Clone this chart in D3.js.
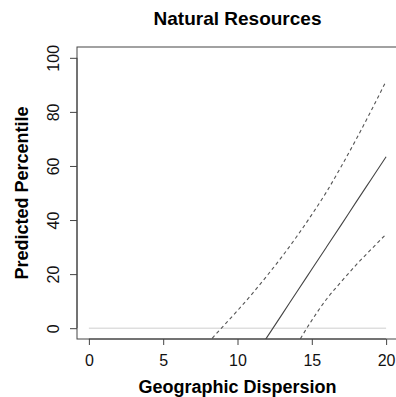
<!DOCTYPE html>
<html lang="en">
<head>
<meta charset="utf-8">
<script src="https://cdn.jsdelivr.net/npm/d3@7"></script>
<style>
body { margin: 0; background: #fff; }
svg { font-family: "Liberation Sans", Arial, sans-serif; }
.axis path, .axis line { stroke: #444; }
.axis text { fill: #111; font-size: 16px; }
</style>
</head>
<body>
<div id="chart"></div>
<script>
var title = "Natural Resources",
    xLabel = "Geographic Dispersion",
    yLabel = "Predicted Percentile";

var xTicks = [0, 5, 10, 15, 20],
    yTicks = [0, 20, 40, 60, 80, 100];

var zeroLine = [0, 20];   // x extent of the grey reference line at 0

var fitX = [11, 12, 13, 14, 15, 16, 17, 18, 19, 20],
    fitY = [-11.5, -3.2, 5.1, 13.5, 21.8, 30.1, 38.4, 46.8, 55.1, 63.4];

var upperX = [8, 9, 10, 11, 12, 13, 14, 15, 16, 17, 18, 19, 20],
    upperY = [-5.5, 0.5, 6.5, 12.8, 19.5, 26.5, 34, 42, 50.5, 60, 70, 80.5, 91.4];

var lowerX = [14, 15, 16, 17, 18, 19, 20],
    lowerY = [-6.0, 2.9, 10.8, 17.3, 23.5, 29.2, 34.8];

var width = 396, height = 397,
    margin = {top: 47, right: -2, bottom: 58, left: 77};

var svg = d3.select("#chart").append("svg")
    .attr("width", width)
    .attr("height", height);

var x = d3.scaleLinear()
    .domain([-0.8, 20.8])
    .range([margin.left, width - margin.right]);

var y = d3.scaleLinear()
    .domain([-4, 104])
    .range([height - margin.bottom, margin.top]);

svg.append("clipPath")
    .attr("id", "plot-clip")
    .append("rect")
    .attr("x", x.range()[0])
    .attr("y", y.range()[1])
    .attr("width", x.range()[1] - x.range()[0])
    .attr("height", y.range()[0] - y.range()[1]);

// zero reference line
svg.append("line")
    .attr("x1", x(zeroLine[0]))
    .attr("x2", x(zeroLine[1]))
    .attr("y1", y(0))
    .attr("y2", y(0))
    .attr("stroke", "#cfcfcf")
    .attr("stroke-width", 1);

var line = d3.line()
    .x(function(d) { return x(d[0]); })
    .y(function(d) { return y(d[1]); })
    .curve(d3.curveMonotoneX);

var lines = svg.append("g").attr("clip-path", "url(#plot-clip)");

lines.append("path")
    .datum(d3.zip(upperX, upperY))
    .attr("d", line)
    .attr("fill", "none")
    .attr("stroke", "#555")
    .attr("stroke-width", 1.1)
    .attr("stroke-dasharray", "3.5,3");

lines.append("path")
    .datum(d3.zip(lowerX, lowerY))
    .attr("d", line)
    .attr("fill", "none")
    .attr("stroke", "#555")
    .attr("stroke-width", 1.1)
    .attr("stroke-dasharray", "3.5,3");

lines.append("path")
    .datum(d3.zip(fitX, fitY))
    .attr("d", line)
    .attr("fill", "none")
    .attr("stroke", "#444")
    .attr("stroke-width", 1.1);

// box
svg.append("rect")
    .attr("x", x.range()[0])
    .attr("y", y.range()[1])
    .attr("width", x.range()[1] - x.range()[0])
    .attr("height", y.range()[0] - y.range()[1])
    .attr("fill", "none")
    .attr("stroke", "#444")
    .attr("stroke-width", 1);

// axes
var xAxis = svg.append("g")
    .attr("class", "axis")
    .attr("transform", "translate(0," + y.range()[0] + ")")
    .call(d3.axisBottom(x).tickValues(xTicks).tickSize(6).tickPadding(10).tickSizeOuter(0));
xAxis.select(".domain")
    .attr("d", "M" + x(xTicks[0]) + ",0H" + x(xTicks[xTicks.length - 1]));

var yAxis = svg.append("g")
    .attr("class", "axis")
    .attr("transform", "translate(" + x.range()[0] + ",0)")
    .call(d3.axisLeft(y).tickValues(yTicks).tickSize(7).tickSizeOuter(0));
yAxis.select(".domain")
    .attr("d", "M0," + y(yTicks[0]) + "V" + y(yTicks[yTicks.length - 1]));
yAxis.selectAll(".tick text")
    .attr("transform", "rotate(-90)")
    .attr("x", 0)
    .attr("y", -18)
    .attr("dy", 0)
    .style("text-anchor", "middle");

// labels
var cx = (x.range()[0] + x.range()[1]) / 2,
    cy = (y.range()[0] + y.range()[1]) / 2;

svg.append("text")
    .attr("x", cx)
    .attr("y", 25)
    .attr("text-anchor", "middle")
    .style("font-size", "19px")
    .style("font-weight", "bold")
    .text(title);

svg.append("text")
    .attr("x", cx)
    .attr("y", 393)
    .attr("text-anchor", "middle")
    .style("font-size", "18px")
    .style("font-weight", "bold")
    .text(xLabel);

svg.append("text")
    .attr("transform", "translate(27.5," + cy + ") rotate(-90)")
    .attr("text-anchor", "middle")
    .style("font-size", "18px")
    .style("font-weight", "bold")
    .text(yLabel);
</script>
</body>
</html>
